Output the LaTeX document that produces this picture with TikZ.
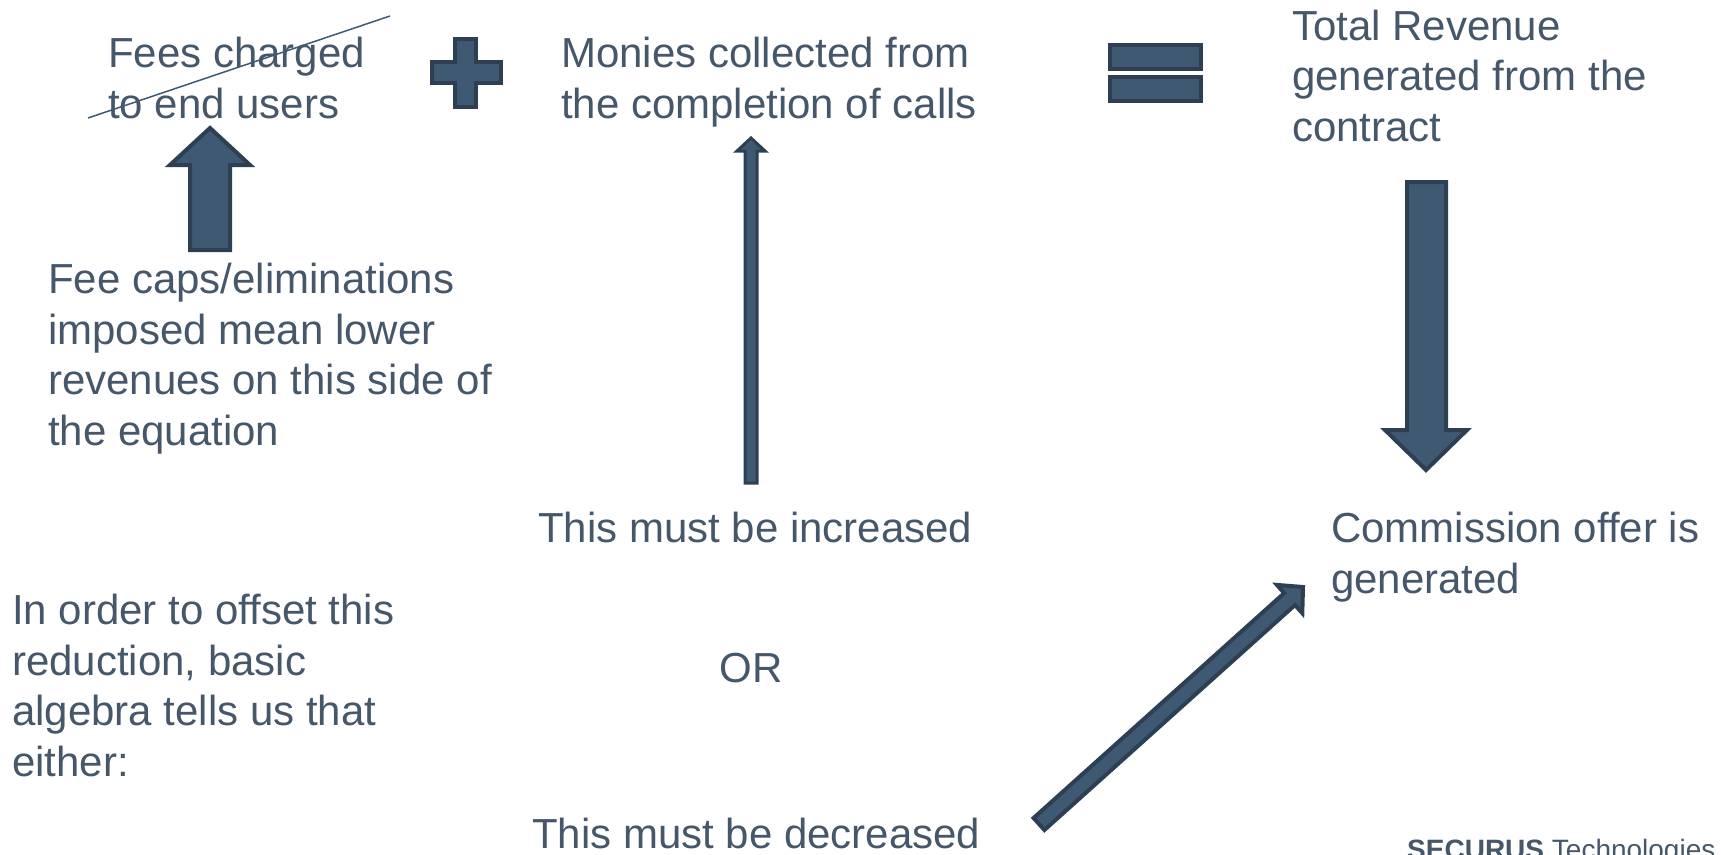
\documentclass[tikz,border=0pt]{standalone}
\usepackage{fontspec}
\setmainfont{Liberation Sans}
\definecolor{txtblue}{RGB}{70,87,106}
\definecolor{shapefill}{RGB}{64,89,114}
\definecolor{shapeline}{RGB}{45,63,83}
\tikzset{
    txt/.style={anchor=base west, inner sep=0pt, align=left, text=txtblue, font=\fontsize{42}{50.5}\selectfont},
    block/.style={fill=shapefill, draw=shapeline, line width=4pt, line join=miter}
}
\begin{document}
\begin{tikzpicture}[x=1pt,y=-1pt]
    \useasboundingbox (0,0) rectangle (1721,854);
    \clip (0,0) rectangle (1721,854);
    \node[txt] (fees) at (108,118) {Fees charged\\to end users};
    \node[txt] (monies) at (561,118) {Monies collected from\\the completion of calls};
    \node[txt] (total) at (1292,141) {Total Revenue\\generated from the\\contract};
    \node[txt] (caps) at (48,445) {Fee caps/eliminations\\imposed mean lower\\revenues on this side of\\the equation};
    \node[txt] (increased) at (538,542) {This must be increased};
    \node[txt] (commission) at (1331,593) {Commission offer is\\generated};
    \node[txt] (offset) at (12,776) {In order to offset this\\reduction, basic\\algebra tells us that\\either:};
    \node[txt, anchor=base] (orword) at (751,682) {OR};
    \node[txt] (decreased) at (532,848) {This must be decreased};
    \node[anchor=base west, inner sep=0pt, text=txtblue, font=\fontsize{28}{30}\selectfont] (logo) at (1407,859) {\textbf{SECURUS} Technologies};
    \draw[shapefill, line width=1.5pt] (88,118) -- (390,16);
    \draw[block] (455,39) -- (476,39) -- (476,62) -- (501,62) -- (501,83) -- (476,83) -- (476,107) -- (455,107) -- (455,83) -- (432,83) -- (432,62) -- (455,62) -- cycle;
    \draw[block] (1110,45) rectangle (1201,69);
    \draw[block] (1110,77) rectangle (1201,101);
    \draw[block] (210,128) -- (250,165) -- (230,165) -- (230,250) -- (190,250) -- (190,165) -- (170,165) -- cycle;
    \draw[block, line width=3pt] (751,138) -- (765,151) -- (757,151) -- (757,483) -- (745,483) -- (745,151) -- (737,151) -- cycle;
    \draw[block] (1407,182) -- (1446,182) -- (1446,430) -- (1467,430) -- (1426,470) -- (1385,430) -- (1407,430) -- cycle;
    \draw[block] (1044.4,830) -- (1033.6,818) -- (1284.2,593.1) -- (1276.9,584.9) -- (1303,587) -- (1302.3,613.2) -- (1295,605) -- cycle;
\end{tikzpicture}
\end{document}
